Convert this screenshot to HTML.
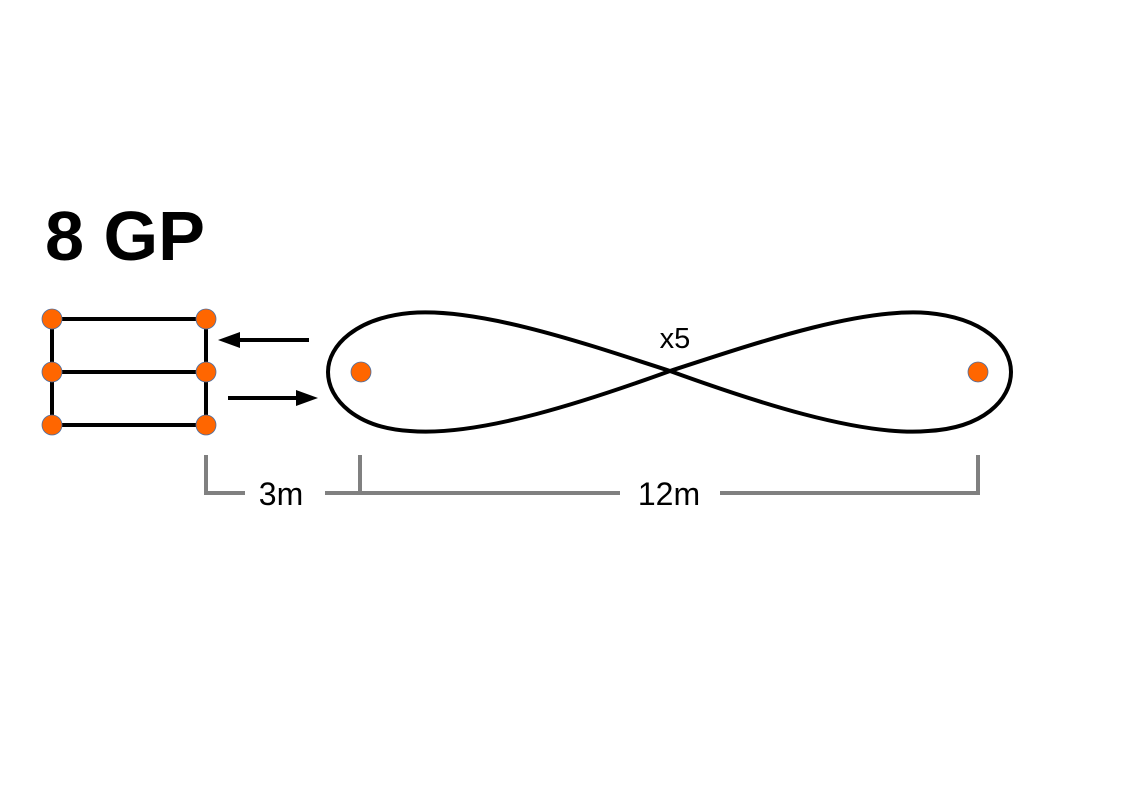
<!DOCTYPE html>
<html><head><meta charset="utf-8"><style>
html,body{margin:0;padding:0;background:#fff;}
svg{display:block;}
text{font-family:"Liberation Sans",sans-serif;}
</style></head><body>
<svg width="1123" height="794" viewBox="0 0 1123 794" xmlns="http://www.w3.org/2000/svg">
<text x="45" y="260" font-size="70" font-weight="bold" fill="#000" style="font-family:'Liberation Sans Narrow','Liberation Sans',sans-serif" textLength="160" lengthAdjust="spacingAndGlyphs">8 GP</text>
<g stroke="#000" stroke-width="4" fill="none">
<line x1="52" y1="319" x2="206" y2="319"/>
<line x1="52" y1="372" x2="206" y2="372"/>
<line x1="52" y1="425" x2="206" y2="425"/>
<line x1="52" y1="319" x2="52" y2="425"/>
<line x1="206" y1="319" x2="206" y2="425"/>
<line x1="234" y1="340" x2="309" y2="340"/>
<line x1="228" y1="398" x2="302" y2="398"/>
<path d="M670,371 C590,345 480,307 410,313 C357,318 328,345 328,372 C328,400 357,428 410,431 C480,437 590,400 670,371 C750,345 860,307 928,313 C983,318 1011,345 1011,372 C1011,400 983,428 928,431 C860,437 750,400 670,371 Z" stroke-width="4"/>
</g>
<polygon points="218,340 240,332 240,348" fill="#000"/>
<polygon points="318,398 296,390 296,406" fill="#000"/>
<g fill="#ff6600" stroke="#4a6fa5" stroke-width="0.8">
<circle cx="52" cy="319" r="10"/><circle cx="206" cy="319" r="10"/>
<circle cx="52" cy="372" r="10"/><circle cx="206" cy="372" r="10"/>
<circle cx="52" cy="425" r="10"/><circle cx="206" cy="425" r="10"/>
<circle cx="361" cy="372" r="10"/><circle cx="978" cy="372" r="10"/>
</g>
<g stroke="#808080" stroke-width="4" fill="none" stroke-linecap="butt">
<polyline points="206,455 206,493 245,493"/>
<line x1="325" y1="493" x2="620" y2="493"/>
<line x1="360" y1="455" x2="360" y2="493"/>
<polyline points="720,493 978,493 978,455"/>
</g>
<text x="281" y="505" font-size="32" text-anchor="middle" fill="#000">3m</text>
<text x="669" y="505" font-size="32" text-anchor="middle" fill="#000">12m</text>
<text x="675" y="348" font-size="29" text-anchor="middle" fill="#000">x5</text>
</svg>
</body></html>
